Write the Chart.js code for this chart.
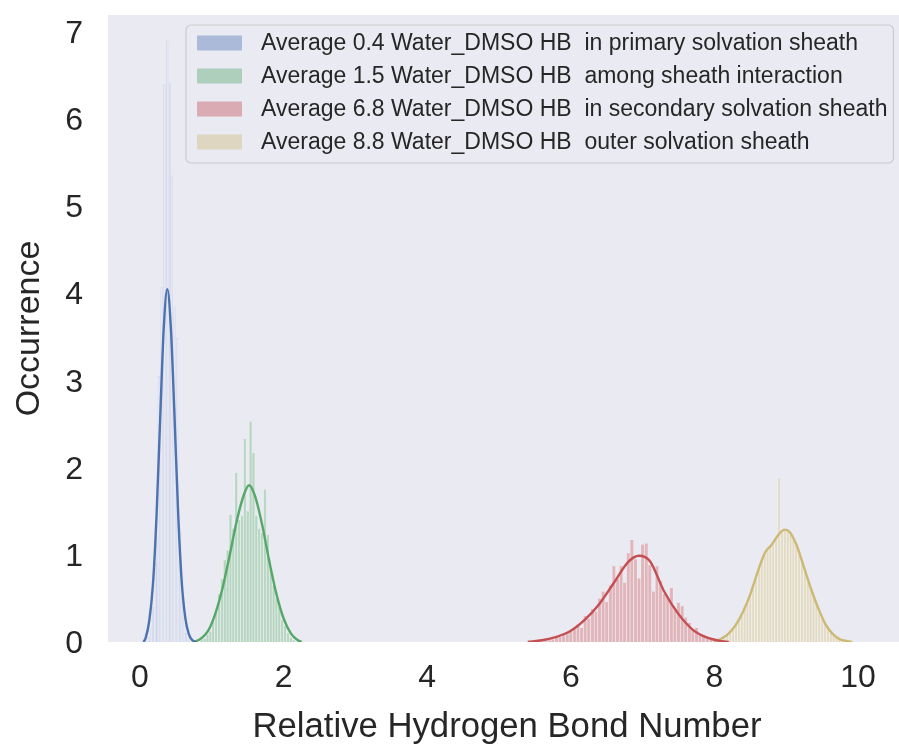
<!DOCTYPE html>
<html><head><meta charset="utf-8">
<script src="https://cdn.jsdelivr.net/npm/chart.js@4.4.1/dist/chart.umd.min.js"></script>
<style>html,body{margin:0;padding:0;background:#fff;overflow:hidden}#wrap{width:899px;height:749px;overflow:hidden}</style>
</head><body><div id="wrap"><canvas id="c" width="906" height="749"></canvas></div>
<script>
// ---------- data ----------
const legendLabels = [
  'Average 0.4 Water_DMSO HB  in primary solvation sheath',
  'Average 1.5 Water_DMSO HB  among sheath interaction',
  'Average 6.8 Water_DMSO HB  in secondary solvation sheath',
  'Average 8.8 Water_DMSO HB  outer solvation sheath'
];
const xTicks = [0, 2, 4, 6, 8, 10];
const yTicks = [0, 1, 2, 3, 4, 5, 6, 7];

// histogram bins (bin centre, density)
const blueBinX = [0.12,0.16,0.18,0.22,0.24,0.26,0.30,0.34,0.38,0.42,0.44,0.48,0.52,0.56,0.58,0.62,0.64,0.68];
const blueBinY = [0.05,0.15,0.40,0.90,1.20,3.05,4.07,6.40,6.90,6.42,5.35,3.85,3.49,1.30,0.50,0.30,0.10,0.05];

const greenBinX = [0.86,0.90,0.94,0.98,1.02,1.06,1.10,1.14,1.18,1.22,1.26,1.30,1.34,1.38,1.42,1.46,1.50,1.54,1.58,1.62,1.66,1.70,1.74,1.78,1.82,1.86,1.90,1.94,1.98,2.02,2.06,2.10,2.14];
const greenBinY = [0.02,0.04,0.08,0.12,0.25,0.35,0.55,0.72,0.94,1.05,1.46,1.30,1.94,1.40,1.45,2.33,1.50,2.53,2.17,1.45,1.30,1.25,1.75,1.23,0.85,0.65,0.50,0.40,0.25,0.18,0.10,0.05,0.02];

const redBinX = [5.60,5.65,5.70,5.75,5.80,5.85,5.90,5.95,6.00,6.05,6.10,6.15,6.20,6.25,6.30,6.35,6.40,6.45,6.50,6.55,6.60,6.65,6.70,6.75,6.80,6.85,6.90,6.95,7.00,7.05,7.10,7.15,7.20,7.25,7.30,7.35,7.40,7.45,7.50,7.55,7.60,7.65,7.70,7.75,7.80,7.85,7.90,7.95,8.00];
const redBinY = [0.01,0.02,0.02,0.03,0.05,0.06,0.08,0.10,0.12,0.15,0.20,0.16,0.30,0.27,0.38,0.35,0.50,0.58,0.46,0.65,0.87,0.72,0.87,0.68,1.02,1.17,0.95,0.73,1.12,1.13,0.88,0.58,0.87,0.70,0.55,0.52,0.62,0.38,0.45,0.41,0.28,0.22,0.14,0.16,0.08,0.07,0.05,0.03,0.02];

const yellowBinX = [8.10,8.14,8.18,8.22,8.26,8.30,8.34,8.38,8.42,8.46,8.50,8.54,8.58,8.62,8.66,8.70,8.74,8.78,8.82,8.86,8.90,8.94,8.98,9.02,9.06,9.10,9.14,9.18,9.22,9.26,9.30,9.34,9.38,9.42,9.46,9.50,9.54,9.58,9.62,9.66,9.70,9.74,9.78];
const yellowBinY = [0.03,0.05,0.08,0.11,0.15,0.19,0.25,0.30,0.38,0.45,0.55,0.62,0.76,0.85,0.95,1.00,1.05,1.10,1.12,1.18,1.88,1.25,1.28,1.27,1.24,1.18,1.10,1.00,0.92,0.82,0.72,0.62,0.52,0.42,0.35,0.27,0.21,0.15,0.11,0.08,0.05,0.03,0.02];

// KDE curves (x, density)
const blueKdeX = [0.05,0.08,0.13,0.18,0.23,0.28,0.33,0.38,0.43,0.48,0.53,0.58,0.63,0.68,0.73,0.78];
const blueKdeY = [0.00,0.05,0.25,0.66,1.45,2.55,3.60,4.05,3.60,2.60,1.50,0.70,0.28,0.09,0.02,0.00];

const greenKdeX = [0.75,0.85,0.95,1.05,1.15,1.25,1.35,1.45,1.52,1.60,1.70,1.80,1.90,2.00,2.10,2.20,2.25];
const greenKdeY = [0.00,0.04,0.13,0.33,0.62,1.00,1.40,1.70,1.80,1.68,1.35,0.93,0.55,0.27,0.10,0.02,0.00];

const redKdeX = [5.40,5.60,5.80,6.00,6.20,6.40,6.60,6.80,6.95,7.10,7.30,7.50,7.70,7.90,8.10,8.20];
const redKdeY = [0.00,0.02,0.06,0.13,0.26,0.44,0.68,0.92,0.99,0.93,0.58,0.32,0.14,0.05,0.01,0.00];

const yellowKdeX = [8.00,8.10,8.20,8.30,8.40,8.50,8.60,8.70,8.80,8.90,8.98,9.05,9.15,9.25,9.35,9.45,9.55,9.65,9.75,9.85,9.92];
const yellowKdeY = [0.00,0.04,0.10,0.20,0.35,0.55,0.80,1.02,1.12,1.24,1.29,1.26,1.10,0.85,0.60,0.38,0.20,0.09,0.03,0.01,0.00];

// ---------- styling ----------
const palette = ['#4C72B0', '#55A868', '#C44E52', '#CCB974'];
const paletteRGB = [[76,114,176],[85,168,104],[196,78,82],[204,185,116]];
const TEXT = '#262626';
const FONT = '"Liberation Sans", Arial, sans-serif';
const X_MIN = -0.446, X_MAX = 10.668, Y_MIN = 0, Y_MAX = 7.2;

const pts = (xs, ys) => xs.map((x, i) => ({x: x, y: ys[i]}));
const rgba = (i, a) => `rgba(${paletteRGB[i][0]},${paletteRGB[i][1]},${paletteRGB[i][2]},${a})`;

const bins = [[blueBinX, blueBinY], [greenBinX, greenBinY], [redBinX, redBinY], [yellowBinX, yellowBinY]];
const kdes = [[blueKdeX, blueKdeY], [greenKdeX, greenKdeY], [redKdeX, redKdeY], [yellowKdeX, yellowKdeY]];
const hiddenAxes = ['xb', 'xg', 'xr', 'xy'];

const datasets = [];
bins.forEach((b, i) => {
  datasets.push({
    type: 'bar',
    label: legendLabels[i],
    data: pts(b[0], b[1]),
    xAxisID: hiddenAxes[i],
    yAxisID: 'y',
    grouped: false,
    barPercentage: 1,
    categoryPercentage: 1,
    backgroundColor: i === 0 ? 'rgba(255,255,255,0.55)' : rgba(i, 0.34),
    borderColor: i === 0 ? 'rgba(120,145,200,0.35)' : 'rgba(255,255,255,0.6)',
    borderWidth: i === 0 ? 0.45 : {left: 0.5, right: 0.5, top: 0, bottom: 0},
    borderSkipped: false,
    order: 2
  });
});
kdes.forEach((k, i) => {
  datasets.push({
    type: 'line',
    label: 'kde' + i,
    data: pts(k[0], k[1]),
    xAxisID: 'x',
    yAxisID: 'y',
    borderColor: palette[i],
    borderWidth: 2.4,
    pointRadius: 0,
    fill: false,
    cubicInterpolationMode: 'monotone',
    order: 1
  });
});

const hiddenScale = {type: 'linear', display: false, offset: false, min: X_MIN, max: X_MAX,
                     grid: {offset: false}};

const bgLegendPlugin = {
  id: 'bgLegend',
  beforeDraw(chart) {
    const {ctx, chartArea: ca} = chart;
    ctx.save();
    ctx.fillStyle = '#ffffff';
    ctx.fillRect(0, 0, chart.width, chart.height);
    ctx.fillStyle = '#EAEAF2';
    ctx.fillRect(ca.left, ca.top, ca.right - ca.left, ca.bottom - ca.top);
    ctx.restore();
  },
  afterDraw(chart) {
    const {ctx, chartArea: ca} = chart;
    ctx.save();
    ctx.font = '23px ' + FONT;
    const textW = Math.max(...legendLabels.map(t => ctx.measureText(t).width));
    const left = ca.left + 78, top = ca.top + 10;
    const textX = left + 75;
    const w = textX - left + textW + 6, h = 138, r = 5;
    ctx.beginPath();
    ctx.moveTo(left + r, top);
    ctx.arcTo(left + w, top, left + w, top + h, r);
    ctx.arcTo(left + w, top + h, left, top + h, r);
    ctx.arcTo(left, top + h, left, top, r);
    ctx.arcTo(left, top, left + w, top, r);
    ctx.closePath();
    ctx.fillStyle = 'rgba(234,234,242,0.8)';
    ctx.fill();
    ctx.lineWidth = 1.2;
    ctx.strokeStyle = '#CCCCCC';
    ctx.stroke();
    legendLabels.forEach((t, i) => {
      const cy = top + 18 + i * 33;
      ctx.fillStyle = rgba(i, 0.4);
      ctx.fillRect(left + 11, cy - 7.5, 45, 15);
      ctx.fillStyle = TEXT;
      ctx.textBaseline = 'middle';
      ctx.textAlign = 'left';
      ctx.fillText(t, textX, cy + 1);
    });
    ctx.restore();
  }
};

new Chart(document.getElementById('c'), {
  data: {datasets: datasets},
  options: {
    responsive: false,
    animation: false,
    devicePixelRatio: 1,
    layout: {padding: {top: 15, right: 0, bottom: 0, left: 0}},
    plugins: {legend: {display: false}, tooltip: {enabled: false}},
    scales: {
      x: {
        type: 'linear', position: 'bottom', min: X_MIN, max: X_MAX, offset: false,
        grid: {display: false, drawTicks: false}, border: {display: false},
        afterBuildTicks: s => { s.ticks = xTicks.map(v => ({value: v})); },
        afterFit: s => { s.height = 107; s.paddingLeft = 0; s.paddingRight = 0; },
        ticks: {color: TEXT, padding: 17, font: {family: FONT, size: 32}, maxRotation: 0},
        title: {display: true, text: 'Relative Hydrogen Bond Number', color: TEXT,
                font: {family: FONT, size: 34.7}, padding: {top: 0, bottom: 1}}
      },
      xb: hiddenScale, xg: hiddenScale, xr: hiddenScale, xy: hiddenScale,
      y: {
        type: 'linear', position: 'left', min: Y_MIN, max: Y_MAX,
        grid: {display: false, drawTicks: false}, border: {display: false},
        afterBuildTicks: s => { s.ticks = yTicks.map(v => ({value: v})); },
        afterFit: s => { s.width = 108; s.paddingTop = 0; s.paddingBottom = 0; },
        ticks: {color: TEXT, padding: 25, labelOffset: 2, font: {family: FONT, size: 32}},
        title: {display: true, text: 'Occurrence', color: TEXT,
                font: {family: FONT, size: 34}, padding: {top: 9, bottom: 0}}
      }
    }
  },
  plugins: [bgLegendPlugin]
});
</script></body></html>
